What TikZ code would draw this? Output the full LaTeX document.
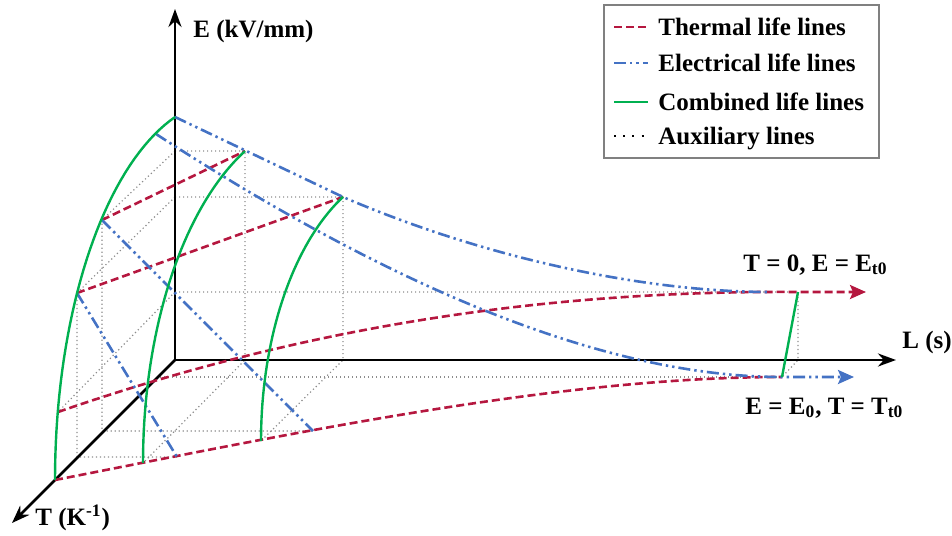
\documentclass[tikz,border=0pt]{standalone}
\usepackage{fontspec}
\setmainfont{Liberation Serif}
\usepackage{tikz}
\usetikzlibrary{arrows.meta}
\definecolor{Lthermal}{HTML}{B5173F}
\definecolor{Lelec}{HTML}{4472C4}
\definecolor{Lcomb}{HTML}{00B050}
\definecolor{Laux}{HTML}{8C8C8C}

\begin{document}
\begin{tikzpicture}[
  x=0.5pt, y=-0.5pt,
  font=\bfseries\fontsize{12.5}{15}\selectfont,
  axis/.style={line width=1.4pt, -{Stealth[length=9pt, width=6.5pt]}},
  thermal/.style={Lthermal, line width=1.3pt, dash pattern=on 4pt off 2pt},
  elec/.style={Lelec, line width=1.3pt, dash pattern=on 6pt off 2pt on 1.2pt off 2pt on 1.2pt off 2pt},
  comb/.style={Lcomb, line width=1.2pt},
  aux/.style={Laux, line width=0.6pt, dash pattern=on 0.6pt off 1.4pt},
  tip/.style={-{Stealth[length=8pt, width=7pt, inset=1.5pt]}},
  lab/.style={anchor=west, inner sep=0pt, text height=8.3pt, text depth=0pt},
]
\useasboundingbox (0,0) rectangle (952,535);

% ── axes ─────────────────────────────────────────────────────────────
\coordinate (O) at (175,360);
\coordinate (Eend) at (175,9);
\coordinate (Lend) at (896,360);
\coordinate (Tend) at (12,523);

% ── points on the combined life lines ────────────────────────────────
\coordinate (a0) at (175,117);
\coordinate (a1) at (156,134);
\coordinate (a2) at (102,220);
\coordinate (a3) at (77,293);
\coordinate (a4) at (58,412);
\coordinate (a5) at (55,480);
\coordinate (b0) at (245,151);
\coordinate (b5) at (143,463);
\coordinate (c0) at (343,197);
\coordinate (c5) at (261,441);
\coordinate (d0) at (798,292);
\coordinate (d5) at (782,377);

% ── grid helpers ─────────────────────────────────────────────────────
\coordinate (ga) at (175,151);
\coordinate (gb) at (175,197);
\coordinate (gc) at (175,292);
\coordinate (lb) at (245,360);
\coordinate (lc) at (343,360);
\coordinate (ld) at (798,360);
\coordinate (f1) at (160,377);
\coordinate (f2) at (102,431);
\coordinate (f3) at (77,457);
\coordinate (e3) at (313,431);
\coordinate (e4) at (177,457);
\coordinate (m1) at (770,292);
\coordinate (rt) at (866,292);
\coordinate (bt) at (854,377);

% auxiliary lines
\draw[aux] (ga) -- (b0) -- (lb) -- (b5);
\draw[aux] (gb) -- (c0) -- (lc) -- (c5);
\draw[aux] (gc) -- (d0) -- (ld) -- (d5);
\draw[aux] (f1) -- (d5);
\draw[aux] (ga) -- (a2) -- (f2) -- (e3);
\draw[aux] (gb) -- (a3) -- (f3) -- (e4);
\draw[aux] (gc) -- (a4);

\draw[axis] (O) -- (Eend);
\draw[axis] (O) -- (Lend);
\draw[axis] (O) -- (Tend);

% thermal life lines
\draw[thermal] (a2) -- (b0);
\draw[thermal] (a3) -- (c0);
\draw[thermal, tip] (a4) .. controls (280,335) and (520,290) .. (d0) -- (rt);
\draw[thermal] (a5) .. controls (300,432) and (560,377) .. (d5);

% electrical life lines
\draw[elec] (a0) -- (c0) .. controls (480,256) and (640,292) .. (m1);
\draw[elec, tip] (a1) .. controls (350,260) and (580,377) .. (d5) -- (bt);
\draw[elec] (a2) -- (e3);
\draw[elec] (a3) -- (e4);

% combined life lines (quarter ellipses)
\draw[comb] plot[domain=107.2:180, samples=40] ({225.5+170.5*cos(\x)}, {480-380*sin(\x)});
\draw[comb] plot[domain=115.3:180, samples=40] ({321+178*cos(\x)}, {463-345*sin(\x)});
\draw[comb] plot[domain=117.4:180, samples=40] ({413+152*cos(\x)}, {441-275*sin(\x)});
\draw[comb] (d0) -- (d5);

% ── labels ───────────────────────────────────────────────────────────
\node[lab] (Elab) at (193,29) {E (kV/mm)};
\node[lab] (Llab) at (902,340) {L (s)};
\node[lab] (Tlab) at (35,517) {T (K\textsuperscript{-1})};
\node[lab] (top) at (743,263) {T = 0, E = E\textsubscript{t0}};
\node[lab] (bot) at (745,406) {E = E\textsubscript{0}, T = T\textsubscript{t0}};

% ── legend ───────────────────────────────────────────────────────────
\node[draw=gray, line width=0.7pt, minimum width=137.5pt, minimum height=76.5pt, inner sep=0pt] (legend) at (741.5,81.5) {};
\node[lab] (kth) at (658,27) {Thermal life lines};
\node[lab] (kel) at (658,63) {Electrical life lines};
\node[lab] (kco) at (658,102) {Combined life lines};
\node[lab] (kau) at (658,136) {Auxiliary lines};
\draw[thermal] (kth.west) ++(-44,0) -- ++(34,0);
\draw[elec] (kel.west) ++(-44,0) -- ++(34,0);
\draw[comb] (kco.west) ++(-44,0) -- ++(34,0);
\draw[black, line width=1pt, dash pattern=on 1pt off 3.6pt] (kau.west) ++(-44,0) -- ++(34,0);

\end{tikzpicture}
\end{document}
